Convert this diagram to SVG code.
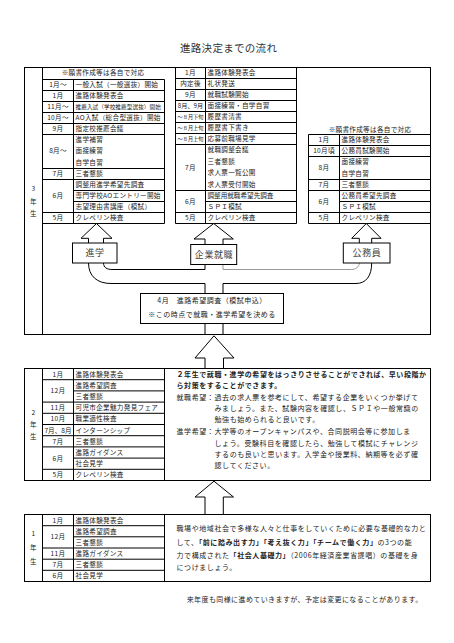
<svg xmlns="http://www.w3.org/2000/svg" width="454" height="643" viewBox="0 0 454 643">
<style>
text{font-family:"Noto Sans CJK JP","Noto Sans CJK SC",sans-serif;fill:#222}
.t{font-size:6.6px;letter-spacing:0.3px}
.s{font-size:5.6px;letter-spacing:0.1px}
.xs{font-size:5.2px}
.m{text-anchor:middle}
.p{font-size:7px;letter-spacing:0.58px}
.b{font-weight:bold}
.ln{stroke:#000;stroke-width:1;fill:none}
.bx{stroke:#000;stroke-width:1;fill:#fff}
.opt{font-size:9px;fill:#444;text-anchor:middle;letter-spacing:0.6px}
</style>
<rect width="454" height="643" fill="#fff"/>
<g id="title"><text x="180" y="52" style="font-size:10.5px;letter-spacing:0.3px;fill:#333">進路決定までの流れ</text></g>

<g id="frame-3nen">
<rect class="ln" x="24.5" y="67.5" width="406" height="267"/>
<line class="ln" x1="42.5" y1="67.5" x2="42.5" y2="334.5"/>
<text class="t m" x="33.5" y="190.5">3</text>
<text class="t m" x="33.5" y="203.5">年</text>
<text class="t m" x="33.5" y="216">生</text>
</g>

<g id="table-shingaku">
<path class="ln" d="M42.5,79.5H164.5M42.5,90.5H164.5M42.5,101.5H164.5M42.5,112.5H164.5M42.5,123.5H164.5M42.5,134.5H164.5M42.5,168.5H164.5M42.5,179.5H164.5M73.5,190.5H164.5M73.5,201.5H164.5M42.5,212.5H164.5M42.5,223.5H164.5M73.5,79.5V223.5M164.5,79.5V223.5"/>
<text class="t m" x="103" y="75.2">※願書作成等は各自で対応</text>
<text class="t m" x="58" y="87">1月〜</text><text class="t" x="75.5" y="87">一般入試（一般選抜）開始</text>
<text class="t m" x="58" y="98">1月</text><text class="t" x="75.5" y="98">進路体験発表会</text>
<text class="t m" x="58" y="109">11月〜</text><text class="s" x="75.5" y="108.8">推薦入試（学校推薦型選抜）開始</text>
<text class="t m" x="58" y="120">10月〜</text><text class="t" x="75.5" y="120">AO入試（総合型選抜）開始</text>
<text class="t m" x="58" y="131">9月</text><text class="t" x="75.5" y="131">指定校推薦会議</text>
<text class="t m" x="58" y="153.4">8月〜</text>
<text class="t" x="75.5" y="142.1">進学補習</text><text class="t" x="75.5" y="153.4">面接練習</text><text class="t" x="75.5" y="164.7">自学自習</text>
<text class="t m" x="58" y="176">7月</text><text class="t" x="75.5" y="176">三者懇談</text>
<text class="t m" x="58" y="198">6月</text>
<text class="t" x="75.5" y="187">調整用進学希望先調査</text><text class="t" x="75.5" y="198">専門学校AOエントリー開始</text><text class="t" x="75.5" y="209">志望理由書講座（模試）</text>
<text class="t m" x="58" y="220">5月</text><text class="t" x="75.5" y="220">クレペリン検査</text>
</g>

<g id="table-shushoku">
<path class="ln" d="M175.5,67.5V223.5M205.5,67.5V223.5M296.5,67.5V223.5M175.5,78.5H296.5M175.5,89.5H296.5M175.5,100.5H296.5M175.5,111.5H296.5M175.5,122.5H296.5M175.5,133.5H296.5M175.5,144.5H296.5M175.5,190.5H296.5M205.5,201.5H296.5M175.5,212.5H296.5M175.5,223.5H296.5"/>
<text class="t m" x="190.5" y="75.4">1月</text><text class="t" x="207.5" y="75.4">進路体験発表会</text>
<text class="t m" x="190.5" y="86.4">内定後</text><text class="t" x="207.5" y="86.4">礼状発送</text>
<text class="t m" x="190.5" y="97.4">9月</text><text class="t" x="207.5" y="97.4">就職試験開始</text>
<text class="m" x="190.5" y="108.4" style="font-size:6.2px">8月、9月</text><text class="t" x="207.5" y="108.4">面接練習・自学自習</text>
<text class="xs m" x="190.5" y="119.2">〜８月下旬</text><text class="t" x="207.5" y="119.4">履歴書清書</text>
<text class="xs m" x="190.5" y="130.2">〜８月上旬</text><text class="t" x="207.5" y="130.4">履歴書下書き</text>
<text class="xs m" x="190.5" y="141.2">〜８月上旬</text><text class="t" x="207.5" y="141.4">応募前職場見学</text>
<text class="t m" x="190.5" y="169.9">7月</text>
<text class="t" x="207.5" y="152.2">就職調整会議</text><text class="t" x="207.5" y="163.7">三者懇談</text><text class="t" x="207.5" y="175.2">求人票一覧公開</text><text class="t" x="207.5" y="186.7">求人票受付開始</text>
<text class="t m" x="190.5" y="203.9">6月</text>
<text class="t" x="207.5" y="198.4" style="letter-spacing:0">調整用就職希望先調査</text><text class="t" x="207.5" y="209.4">ＳＰＩ模試</text>
<text class="t m" x="190.5" y="220.4">5月</text><text class="t" x="207.5" y="220.4">クレペリン検査</text>
</g>

<g id="table-koumuin">
<path class="ln" d="M308.5,134.5H430.5M308.5,145.5H430.5M308.5,156.5H430.5M308.5,179.5H430.5M308.5,190.5H430.5M339.5,201.5H430.5M308.5,212.5H430.5M308.5,223.5H430.5M308.5,134.5V223.5M339.5,134.5V223.5"/>
<text class="t m" x="370" y="132.4">※願書作成等は各自で対応</text>
<text class="t m" x="324" y="142.4">1月</text><text class="t" x="341.5" y="142.4">進路体験発表会</text>
<text class="t m" x="324" y="153.4">10月頃</text><text class="t" x="341.5" y="153.4">公務員試験開始</text>
<text class="t m" x="324" y="170.4">8月</text><text class="t" x="341.5" y="164.4">面接練習</text><text class="t" x="341.5" y="175.9">自学自習</text>
<text class="t m" x="324" y="187.4">7月</text><text class="t" x="341.5" y="187.4">三者懇談</text>
<text class="t m" x="324" y="203.9">6月</text><text class="t" x="341.5" y="198.4">公務員希望先調査</text><text class="t" x="341.5" y="209.4">ＳＰＩ模試</text>
<text class="t m" x="324" y="220.4">5月</text><text class="t" x="341.5" y="220.4">クレペリン検査</text>
</g>

<g id="connectors">
<path class="bx" d="M88.5,243V238.3H81L96.5,223.5L112,238.3H103.5V243"/>
<path class="bx" d="M205,244.5V239H194L213.7,223.5L233.3,239H223V244.5"/>
<path class="bx" d="M359.3,243V238.3H351.7L366.3,223.5L381,238.3H371.7V243"/>
<path class="ln" d="M88.5,263C88.5,276 97,283.5 111,283.5H205V293.5"/>
<path class="ln" d="M103.5,263C103.5,267.5 107,269.5 112,269.5H205V264.5"/>
<path class="ln" style="stroke:#999" d="M223,264.5V269.5H351.5C355.5,269.5 359.3,267 359.3,263"/>
<path class="ln" d="M223,293.5V283.5H356C366,283.5 371.7,276 371.7,263"/>
<path class="ln" d="M205,323.5V334.5M223,323.5V334.5"/>
<path class="bx" d="M205,368.5V358H195L214,335.8L234,358H223.5V368.5"/>
<path class="bx" d="M205,514.5V497H195L214,481.2L233.5,497H223.3V514.5"/>
</g>

<g id="node-shingaku"><rect class="bx" x="72.5" y="243" width="44.5" height="20"/><text class="opt" x="95" y="256.4">進学</text></g>
<g id="node-kigyo"><rect class="bx" x="190.7" y="244.5" width="46" height="20"/><text class="opt" x="214" y="257.9">企業就職</text></g>
<g id="node-koumuin"><rect class="bx" x="343.3" y="243" width="46.7" height="20"/><text class="opt" x="367" y="256.4">公務員</text></g>

<g id="node-april">
<rect class="bx" x="140.5" y="293.5" width="143" height="30"/>
<text class="m" x="212" y="303.4" style="font-size:7px;letter-spacing:0.5px">4月　進路希望調査（模試申込）</text>
<text class="m" x="212" y="316.7" style="font-size:7px;letter-spacing:0.5px">※この時点で就職・進学希望を決める</text>
</g>

<g id="frame-2nen">
<rect class="ln" x="24.5" y="368.5" width="406" height="112"/>
<path class="ln" d="M42.5,368.5V480.5M73.5,368.5V480.5M164.5,368.5V480.5M42.5,379.7H164.5M73.5,390.9H164.5M42.5,402.1H164.5M42.5,413.3H164.5M42.5,424.5H164.5M42.5,435.7H164.5M42.5,446.9H164.5M73.5,458.1H164.5M42.5,469.3H164.5"/>
<text class="t m" x="33.5" y="414.5">2</text>
<text class="t m" x="33.5" y="426.5">年</text>
<text class="t m" x="33.5" y="439">生</text>
<text class="t m" x="58" y="376.5">1月</text><text class="t" x="75.5" y="376.5">進路体験発表会</text>
<text class="t m" x="58" y="393.3">12月</text><text class="t" x="75.5" y="387.7">進路希望調査</text><text class="t" x="75.5" y="398.9">三者懇談</text>
<text class="t m" x="58" y="410.1">11月</text><text class="t" x="75.5" y="410.1">可児市企業魅力発見フェア</text>
<text class="t m" x="58" y="421.3">10月</text><text class="t" x="75.5" y="421.3">職業適性検査</text>
<text class="t m" x="58" y="432.5" style="letter-spacing:0">7月、8月</text><text class="t" x="75.5" y="432.5">インターンシップ</text>
<text class="t m" x="58" y="443.7">7月</text><text class="t" x="75.5" y="443.7">三者懇談</text>
<text class="t m" x="58" y="460.5">6月</text><text class="t" x="75.5" y="454.9">進路ガイダンス</text><text class="t" x="75.5" y="466.1">社会見学</text>
<text class="t m" x="58" y="477.3">5月</text><text class="t" x="75.5" y="477.3">クレペリン検査</text>
<text class="p b" x="176.5" y="376.7">２年生で就職・進学の希望をはっきりさせることができれば、早い段階か</text>
<text class="p b" x="176.5" y="388">ら対策をすることができます。</text>
<text class="p" x="176.5" y="400">就職希望：過去の求人票を参考にして、希望する企業をいくつか挙げて</text>
<text class="p" x="214.5" y="411.2">みましょう。また、試験内容を確認し、ＳＰＩや一般常識の</text>
<text class="p" x="214.5" y="422.3">勉強も始められると良いです。</text>
<text class="p" x="176.5" y="434.3">進学希望：大学等のオープンキャンパスや、合同説明会等に参加しま</text>
<text class="p" x="214.5" y="445.6">しょう。受験科目を確認したら、勉強して模試にチャレンジ</text>
<text class="p" x="214.5" y="456.9">するのも良いと思います。入学金や授業料、納期等を必ず確</text>
<text class="p" x="214.5" y="468.2">認してください。</text>
</g>

<g id="frame-1nen">
<rect class="ln" x="24.5" y="514.5" width="406" height="67"/>
<path class="ln" d="M42.5,514.5V581.5M73.5,514.5V581.5M164.5,514.5V581.5M42.5,525.7H164.5M73.5,536.8H164.5M42.5,548H164.5M42.5,559.2H164.5M42.5,570.3H164.5"/>
<text class="t m" x="33.5" y="535.5">1</text>
<text class="t m" x="33.5" y="549.5">年</text>
<text class="t m" x="33.5" y="564">生</text>
<text class="t m" x="58" y="522.5">1月</text><text class="t" x="75.5" y="522.5">進路体験発表会</text>
<text class="t m" x="58" y="539.2">12月</text><text class="t" x="75.5" y="533.7">進路希望調査</text><text class="t" x="75.5" y="544.8">三者懇談</text>
<text class="t m" x="58" y="556">11月</text><text class="t" x="75.5" y="556">進路ガイダンス</text>
<text class="t m" x="58" y="567.2">7月</text><text class="t" x="75.5" y="567.2">三者懇談</text>
<text class="t m" x="58" y="578.3">6月</text><text class="t" x="75.5" y="578.3">社会見学</text>
<text class="p" x="176.5" y="531.2">職場や地域社会で多様な人々と仕事をしていくために必要な基礎的な力と</text>
<text class="p" x="176.5" y="544.7">して、<tspan class="b">「前に踏み出す力」「考え抜く力」「チームで働く力」</tspan>の3つの能</text>
<text class="p" x="176.5" y="557.7">力で構成された<tspan class="b">「社会人基礎力」</tspan>（2006年経済産業省提唱）の基礎を身</text>
<text class="p" x="176.5" y="569.7">につけましょう。</text>
</g>

<g id="footer"><text x="186.7" y="602" style="font-size:7px;letter-spacing:0.4px">来年度も同様に進めていきますが、予定は変更になることがあります。</text></g>
</svg>
